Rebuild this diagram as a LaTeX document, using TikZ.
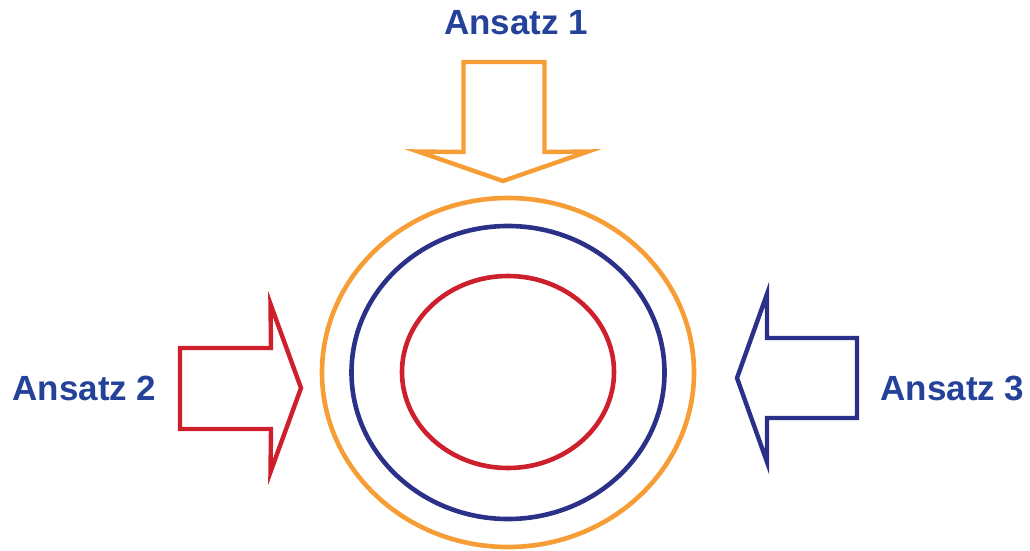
\documentclass[tikz,border=0pt]{standalone}
\usepackage{fontspec}
\setmainfont{Liberation Sans}
\definecolor{aorange}{HTML}{F79D35}
\definecolor{anavy}{HTML}{2B3088}
\definecolor{ared}{HTML}{CE1F2C}
\definecolor{atext}{HTML}{25429A}
\begin{document}
\begin{tikzpicture}[x=1pt,y=-1pt,
  ring/.style={line width=4.6pt},
  bigarrow/.style={line width=4.4pt, line join=miter, miter limit=10, fill=white},
  lab/.style={text=atext, font=\fontsize{35}{40}\selectfont\bfseries, inner sep=0pt}]
\useasboundingbox (0,0) rectangle (1030,551);
% rings
\draw[ring, draw=aorange] (508,372.5) ellipse [x radius=186, y radius=174.5];
\draw[ring, draw=anavy] (508,372.5) ellipse [x radius=156.5, y radius=146.5];
\draw[ring, draw=ared] (508,372) ellipse [x radius=106, y radius=96];
% arrow 1 (top, orange)
\draw[bigarrow, draw=aorange] (463.5,62) -- (544.5,62) -- (544.5,152) -- (588,151.5) -- (503,181) -- (418,151.5) -- (463.5,152) -- cycle;
% arrow 2 (left, red)
\draw[bigarrow, draw=ared] (180,348) -- (271,348) -- (270.5,304) -- (301,388) -- (270.5,472) -- (271,429) -- (180,429) -- cycle;
% arrow 3 (right, navy)
\draw[bigarrow, draw=anavy] (857,338) -- (767,338) -- (767,294) -- (737,378) -- (767,462) -- (767,418) -- (857,418) -- cycle;
% labels
\node[lab] (l1) at (516,22.5) {Ansatz 1};
\node[lab] (l2) at (84.5,388) {Ansatz 2};
\node[lab] (l3) at (952.5,388) {Ansatz 3};
\end{tikzpicture}
\end{document}
